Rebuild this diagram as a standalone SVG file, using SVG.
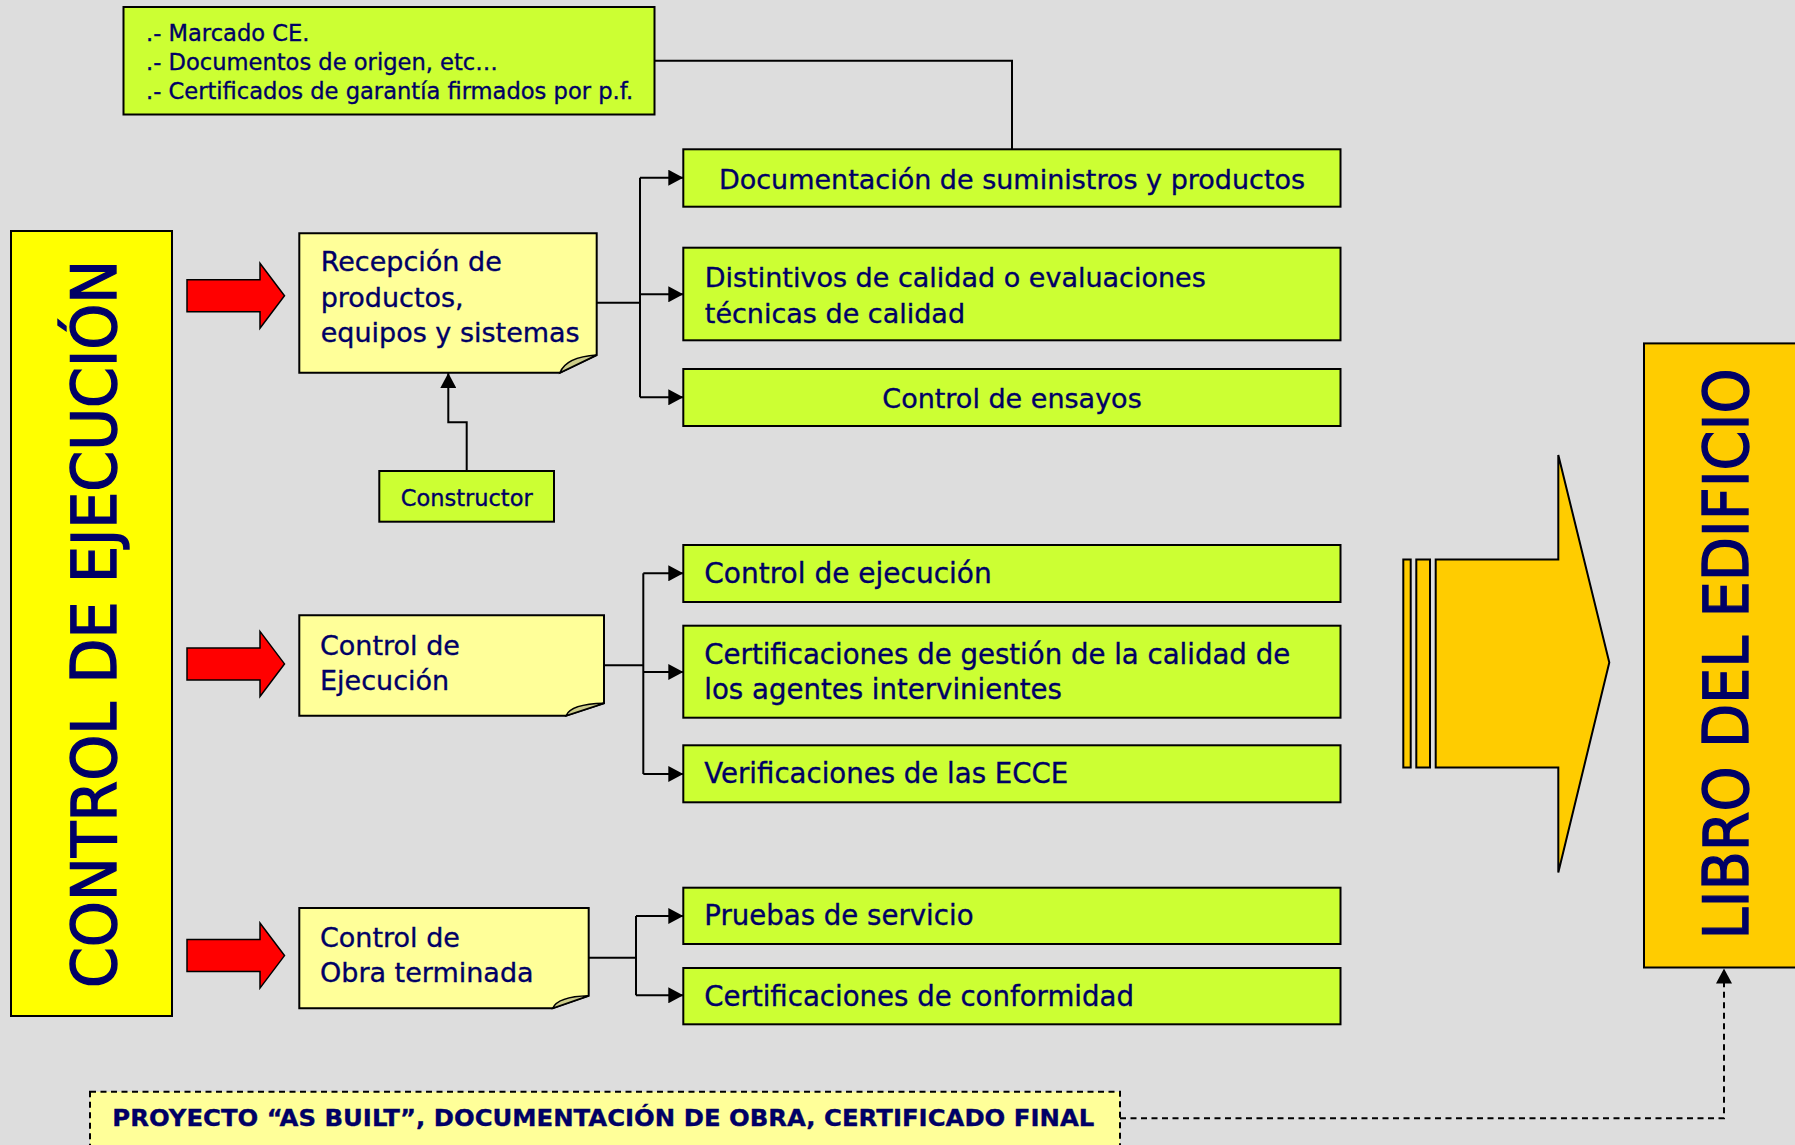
<svg xmlns="http://www.w3.org/2000/svg" width="1795" height="1145" viewBox="0 0 1795 1145">
  <style>
    .txt { font-family: "DejaVu Sans", "Liberation Sans", sans-serif; fill: #000066; stroke: #000066; stroke-width: 0.35; }
    .title { stroke-width: 1.4; }
    .t27 { font-size: 27px; }
    .t275 { font-size: 27.6px; }
    .t22 { font-size: 22.6px; }
    .green { fill: #ccff33; stroke: #000; stroke-width: 2; }
    .note { fill: #ffff99; stroke: #000; stroke-width: 2; stroke-linejoin: miter; }
    .fold { fill: #cccc88; stroke: #000; stroke-width: 1.5; }
    .wire { fill: none; stroke: #000; stroke-width: 2; }
    .dash { fill: none; stroke: #000; stroke-width: 2; stroke-dasharray: 6 4.5; }
    .red { fill: #ff0000; stroke: #000; stroke-width: 1.5; }
    .gold { fill: #ffcc00; stroke: #000; stroke-width: 2; }
  </style>
  <defs>
    <marker id="ah" markerUnits="userSpaceOnUse" markerWidth="16" markerHeight="16" refX="15" refY="8" orient="auto">
      <path d="M0,0 L15,8 L0,16 z" fill="#000"/>
    </marker>
    <path id="redArrow" d="M187,-16 L260,-16 L260,-32.5 L284.5,0 L260,32.5 L260,16 L187,16 Z"/>
  </defs>

  <rect x="0" y="0" width="1795" height="1145" fill="#dddddd"/>

  <!-- left title column -->
  <g id="control-ejecucion-title">
    <rect x="11" y="231" width="161" height="785" fill="#ffff00" stroke="#000" stroke-width="2"/>
    <text class="txt title" font-size="62" transform="translate(116,988) rotate(-90)" textLength="728" lengthAdjust="spacingAndGlyphs">CONTROL DE EJECUCIÓN</text>
  </g>

  <!-- red block arrows -->
  <g id="red-arrows">
    <use href="#redArrow" class="red" transform="translate(0,295.7)"/>
    <use href="#redArrow" class="red" transform="translate(0,663.9)"/>
    <use href="#redArrow" class="red" transform="translate(0,955.6)"/>
  </g>

  <!-- top note -->
  <g id="marcado-ce">
    <rect x="123.5" y="7" width="531" height="107.5" class="green"/>
    <text class="txt t22" x="146" y="40.7">.- Marcado CE.</text>
    <text class="txt t22" x="146" y="70">.- Documentos de origen, etc…</text>
    <text class="txt t22" x="146" y="98.8">.- Certificados de garantía firmados por p.f.</text>
  </g>

  <!-- sticky notes -->
  <g id="recepcion">
    <path class="note" d="M299.3,233.3 H596.7 V355 L560,372.7 H299.3 Z"/>
    <path class="fold" d="M560,372.7 Q566,357 596.7,355 Z"/>
    <text class="txt t27" x="320.7" y="270.7">Recepción de</text>
    <text class="txt t27" x="320.7" y="306.7">productos,</text>
    <text class="txt t27" x="320.7" y="342.3">equipos y sistemas</text>
  </g>

  <g id="control-de-ejecucion">
    <path class="note" d="M299.3,615.3 H604 V703.3 L566,715.7 H299.3 Z"/>
    <path class="fold" d="M566,715.7 Q571,704 604,703.3 Z"/>
    <text class="txt t27" x="320" y="655">Control de</text>
    <text class="txt t27" x="320" y="690">Ejecución</text>
  </g>

  <g id="control-obra-terminada">
    <path class="note" d="M299.3,908 H588.7 V995.7 L552.7,1008.3 H299.3 Z"/>
    <path class="fold" d="M552.7,1008.3 Q557.7,996.5 588.7,995.7 Z"/>
    <text class="txt t27" x="320" y="946.7">Control de</text>
    <text class="txt t27" x="320" y="981.7">Obra terminada</text>
  </g>

  <g id="constructor">
    <rect x="379.3" y="471" width="174.7" height="50.7" class="green"/>
    <text class="txt" font-size="22.5" x="466.7" y="505.7" text-anchor="middle">Constructor</text>
  </g>

  <!-- right-hand items -->
  <g id="documentacion">
    <rect x="683.3" y="149.3" width="657.2" height="57.4" class="green"/>
    <text class="txt t27" x="1012" y="189.3" text-anchor="middle">Documentación de suministros y productos</text>
  </g>
  <g id="distintivos">
    <rect x="683.3" y="247.7" width="657.2" height="92.6" class="green"/>
    <text class="txt t27" x="704.8" y="286.7">Distintivos de calidad o evaluaciones</text>
    <text class="txt t27" x="704.8" y="322.7">técnicas de calidad</text>
  </g>
  <g id="ensayos">
    <rect x="683.3" y="369" width="657.2" height="57" class="green"/>
    <text class="txt t27" x="1012" y="407.7" text-anchor="middle">Control de ensayos</text>
  </g>
  <g id="control-ejecucion-item">
    <rect x="683.3" y="545" width="657.2" height="57" class="green"/>
    <text class="txt" font-size="28" x="704.3" y="583.3">Control de ejecución</text>
  </g>
  <g id="certificaciones-gestion">
    <rect x="683.3" y="625.7" width="657.2" height="92" class="green"/>
    <text class="txt t275" x="704.3" y="664.3">Certificaciones de gestión de la calidad de</text>
    <text class="txt t275" x="704.3" y="699">los agentes intervinientes</text>
  </g>
  <g id="verificaciones">
    <rect x="683.3" y="745.3" width="657.2" height="57" class="green"/>
    <text class="txt t275" x="704.3" y="783.3">Verificaciones de las ECCE</text>
  </g>
  <g id="pruebas">
    <rect x="683.3" y="887.7" width="657.2" height="56.3" class="green"/>
    <text class="txt t275" x="704.3" y="925">Pruebas de servicio</text>
  </g>
  <g id="conformidad">
    <rect x="683.3" y="968" width="657.2" height="56.3" class="green"/>
    <text class="txt t275" x="704.3" y="1006">Certificaciones de conformidad</text>
  </g>

  <!-- big arrow into the building book -->
  <g id="big-arrow">
    <rect x="1403.3" y="559.5" width="7.4" height="208" class="gold"/>
    <rect x="1416.3" y="559.5" width="13.7" height="208" class="gold"/>
    <path class="gold" d="M1435.7,559.5 H1558.3 V455 L1609.3,662.6 L1558.3,872.4 V767.5 H1435.7 Z"/>
  </g>

  <g id="libro-edificio">
    <rect x="1644" y="343.4" width="160" height="624.1" fill="#ffcc00" stroke="#000" stroke-width="2"/>
    <text class="txt title" font-size="62" transform="translate(1748.3,939.4) rotate(-90)" textLength="571" lengthAdjust="spacingAndGlyphs">LIBRO DEL EDIFICIO</text>
  </g>

  <g id="as-built">
    <rect x="90" y="1091.7" width="1030" height="70" fill="#ffff99" stroke="#000" stroke-width="2" stroke-dasharray="6 4.5"/>
    <text class="txt" font-size="23.5" font-weight="bold" x="112.3" y="1125.5" textLength="982" lengthAdjust="spacingAndGlyphs">PROYECTO “AS BUILT”, DOCUMENTACIÓN DE OBRA, CERTIFICADO FINAL</text>
  </g>

  <!-- connectors -->
  <g id="connectors">
    <path class="wire" d="M654.5,60.7 H1012 V149.3"/>

    <path class="wire" d="M596.7,302.7 H640"/>
    <path class="wire" d="M640,177.7 V397.3"/>
    <path class="wire" d="M640,177.7 H683.3" marker-end="url(#ah)"/>
    <path class="wire" d="M640,294.3 H683.3" marker-end="url(#ah)"/>
    <path class="wire" d="M640,397.3 H683.3" marker-end="url(#ah)"/>

    <path class="wire" d="M466.7,471 V422.3 H448.3 V373" marker-end="url(#ah)"/>

    <path class="wire" d="M604,665.3 H643.3"/>
    <path class="wire" d="M643.3,573.3 V774"/>
    <path class="wire" d="M643.3,573.3 H683.3" marker-end="url(#ah)"/>
    <path class="wire" d="M643.3,672 H683.3" marker-end="url(#ah)"/>
    <path class="wire" d="M643.3,774 H683.3" marker-end="url(#ah)"/>

    <path class="wire" d="M588.7,957.7 H636"/>
    <path class="wire" d="M636,916 V995.3"/>
    <path class="wire" d="M636,916 H683.3" marker-end="url(#ah)"/>
    <path class="wire" d="M636,995.3 H683.3" marker-end="url(#ah)"/>

    <path class="dash" d="M1120,1118.3 H1724 V968.5" marker-end="url(#ah)"/>
  </g>
</svg>
